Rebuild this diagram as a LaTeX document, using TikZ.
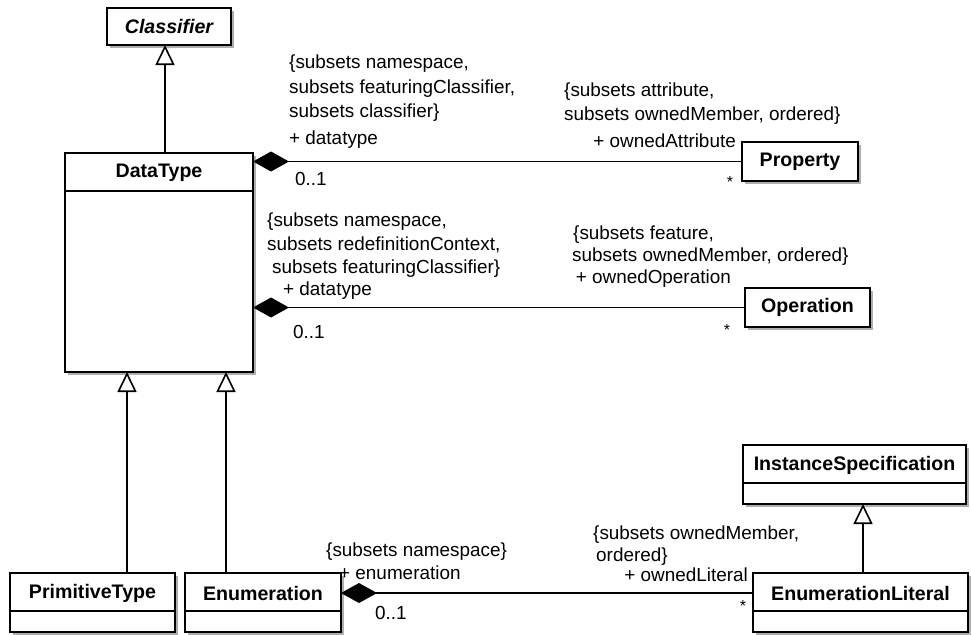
\documentclass[tikz,border=0pt]{standalone}
\usepackage{fontspec}
\setmainfont{Liberation Sans}
\usetikzlibrary{arrows.meta,shadows}
\begin{document}
\begin{tikzpicture}[x=1pt,y=-1pt,
  cls/.style={draw,fill=white,line width=1.6pt,inner sep=0pt,outer sep=0pt,
     font=\fontsize{19.6}{22}\selectfont\bfseries,
     drop shadow={shadow xshift=3pt,shadow yshift=-3pt,fill=black!70,opacity=0.45}},
  ttl/.style={font=\fontsize{19.6}{22}\selectfont\bfseries,inner sep=0pt},
  divider/.style={line width=1.6pt},
  lbl/.style={font=\fontsize{18.9}{24}\selectfont,inner sep=0pt,anchor=base west},
  rlbl/.style={font=\fontsize{18.9}{24}\selectfont,inner sep=0pt,anchor=base east},
  star/.style={font=\fontsize{16}{20}\selectfont,inner sep=0pt},
  gen/.style={line width=1.6pt,-{Triangle[open,fill=white,length=20pt,width=19pt]}},
  comp/.style={line width=1.6pt,{Diamond[length=36pt,width=20pt]}-}
]
\useasboundingbox (0,0) rectangle (971,634);

% classes
\node[cls,minimum width=124pt,minimum height=37pt] (cl) at (169,26.5) {\itshape Classifier};
\node[cls,minimum width=188pt,minimum height=219pt] (dt) at (159,262.5) {};
\node[ttl] (dtT) at ([yshift=-20pt]dt.north) {DataType};
\draw[divider] ([yshift=-38pt]dt.north west) -- ([yshift=-38pt]dt.north east);

\node[cls,minimum width=116pt,minimum height=39pt] (pr) at (800,161.5) {Property};
\node[cls,minimum width=125pt,minimum height=39pt] (op) at (807.5,307.5) {Operation};

\node[cls,minimum width=165pt,minimum height=59pt] (pt) at (92.5,602.5) {};
\node[ttl] (ptT) at ([yshift=-20pt]pt.north) {PrimitiveType};
\draw[divider] ([yshift=-38pt]pt.north west) -- ([yshift=-38pt]pt.north east);

\node[cls,minimum width=156pt,minimum height=59pt] (en) at (263,602.5) {};
\node[ttl] (enT) at ([yshift=-20pt]en.north) {Enumeration};
\draw[divider] ([yshift=-38pt]en.north west) -- ([yshift=-38pt]en.north east);

\node[cls,minimum width=223pt,minimum height=59pt] (is) at (854.5,474.5) {};
\node[ttl] (isT) at ([yshift=-20pt]is.north) {InstanceSpecification};
\draw[divider] ([yshift=-38pt]is.north west) -- ([yshift=-38pt]is.north east);

\node[cls,minimum width=215pt,minimum height=59pt] (el) at (860.5,602.5) {};
\node[ttl] (elT) at ([yshift=-20pt]el.north) {EnumerationLiteral};
\draw[divider] ([yshift=-38pt]el.north west) -- ([yshift=-38pt]el.north east);

% generalizations
\draw[gen] ([xshift=6pt]dt.north) -- ([xshift=6pt]dt.north |- cl.south);
\draw[gen] ([xshift=34.5pt]pt.north) -- ([xshift=34.5pt]pt.north |- dt.south);
\draw[gen] ([xshift=-37pt]en.north) -- ([xshift=-37pt]en.north |- dt.south);
\draw[gen] ([xshift=2.5pt]el.north) -- ([xshift=2.5pt]el.north |- is.south);

% compositions
\draw[comp] (pr.west -| dt.east) -- (pr.west);
\draw[comp] (op.west -| dt.east) -- (op.west);
\draw[comp] (enT -| en.east) -- (enT -| el.west);

% labels association 1
\node[lbl] (a1) at (289,69) {\{subsets namespace,};
\node[lbl] (a2) at (289,93) {subsets featuringClassifier,};
\node[lbl] (a3) at (289,117) {subsets classifier\}};
\node[lbl] (a4) at (289,144) {+ datatype};
\node[lbl] (a5) at (295,185) {0..1};
\node[lbl] (b1) at (564,96) {\{subsets attribute,};
\node[lbl] (b2) at (564,120) {subsets ownedMember, ordered\}};
\node[rlbl] (b3) at (736,147) {+ ownedAttribute};
\node[star] (b4) at (730,182) {*};

% labels association 2
\node[lbl] (c1) at (267,226) {\{subsets namespace,};
\node[lbl] (c2) at (267,250) {subsets redefinitionContext,};
\node[lbl] (c3) at (272,273) {subsets featuringClassifier\}};
\node[lbl] (c4) at (283,295) {+ datatype};
\node[lbl] (c5) at (293,338) {0..1};
\node[lbl] (d1) at (573,239) {\{subsets feature,};
\node[lbl] (d2) at (572,261) {subsets ownedMember, ordered\}};
\node[rlbl] (d3) at (731,283) {+ ownedOperation};
\node[star] (d4) at (727,330) {*};

% labels association 3
\node[lbl] (e1) at (326,556) {\{subsets namespace\}};
\node[lbl] (e2) at (339,579) {+ enumeration};
\node[lbl] (e3) at (375,619) {0..1};
\node[lbl] (f1) at (593,539) {\{subsets ownedMember,};
\node[lbl] (f2) at (596,561) {ordered\}};
\node[rlbl] (f3) at (748,581) {+ ownedLiteral};
\node[star] (f4) at (743,606) {*};
\end{tikzpicture}
\end{document}
